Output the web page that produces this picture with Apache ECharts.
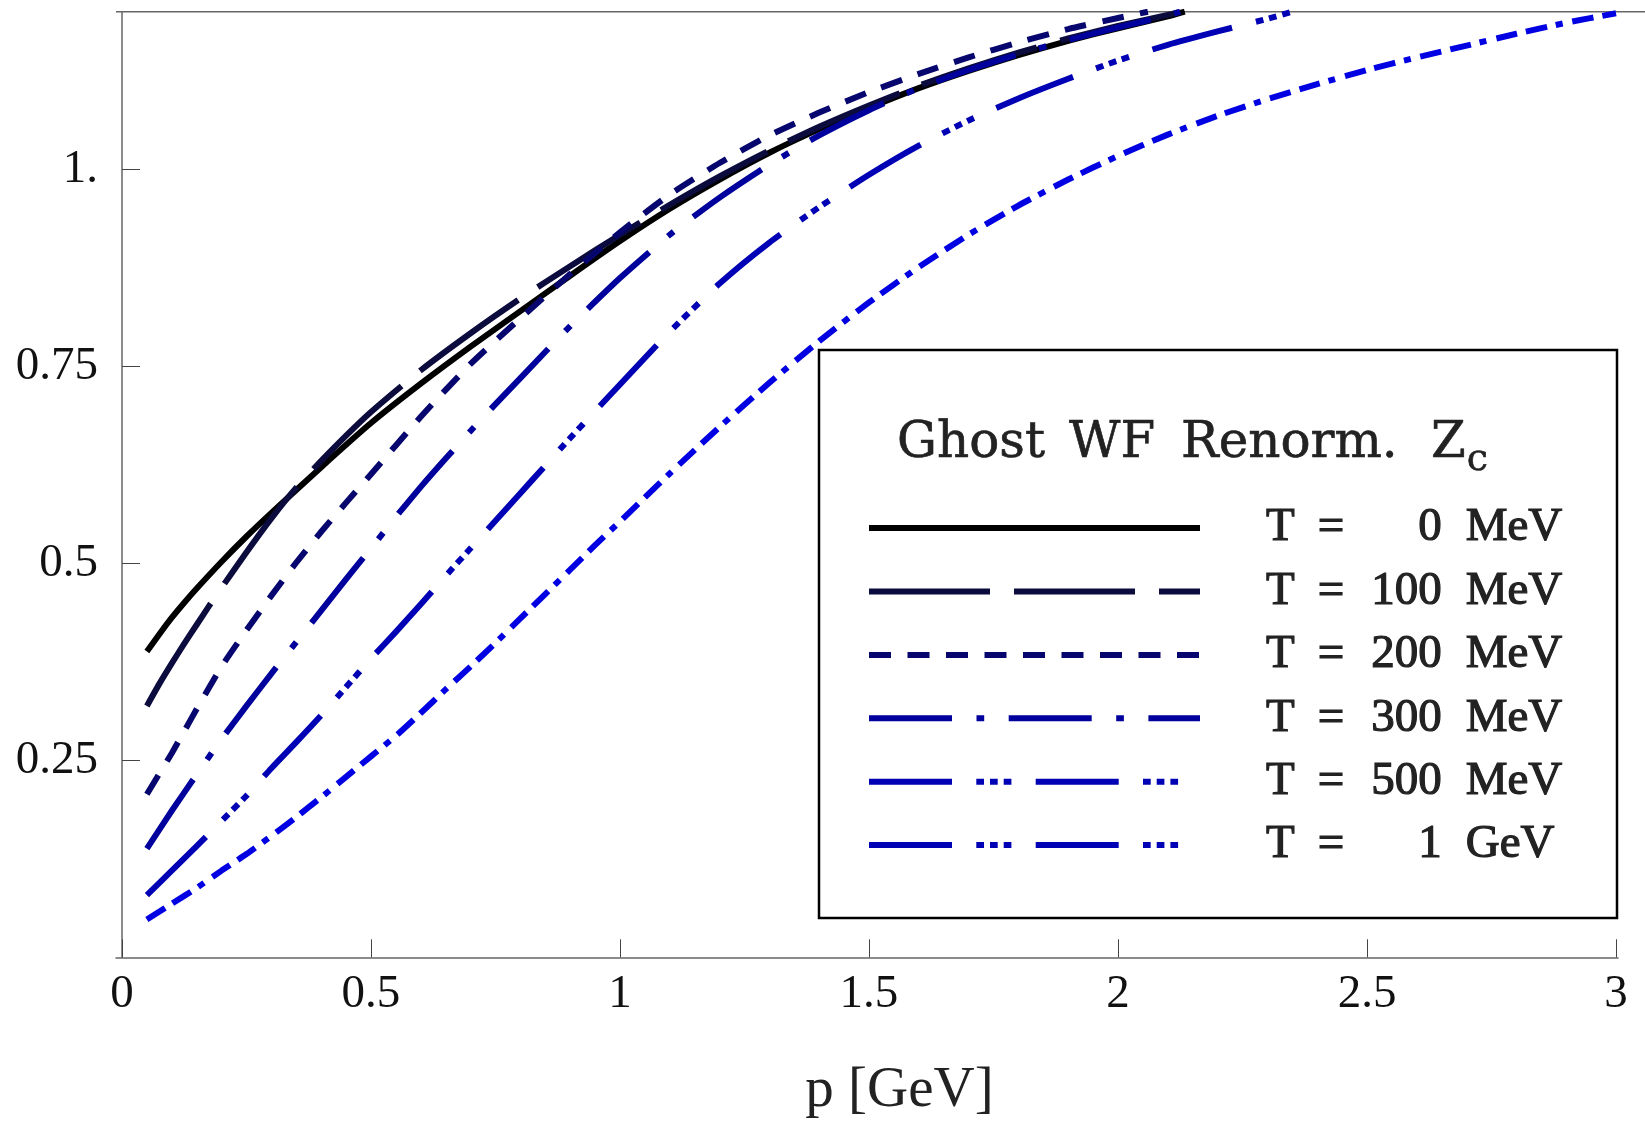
<!DOCTYPE html>
<html>
<head>
<meta charset="utf-8">
<title>Ghost WF Renorm. Zc</title>
<script src="https://cdn.jsdelivr.net/npm/echarts@6/dist/echarts.min.js"></script>
<style>
    html, body { margin: 0; padding: 0; background: #fff; }
    #chart { width: 1645px; height: 1125px; }
</style>
</head>
<body>
<div id="chart"></div>
<script>
// tick marks / labels
var xTicks = [0, 0.5, 1, 1.5, 2, 2.5, 3];
var xTickLabels = ['0', '0.5', '1', '1.5', '2', '2.5', '3'];
var yTicks = [0.25, 0.5, 0.75, 1];
var yTickLabels = ['0.25', '0.5', '0.75', '1.'];

// legend entries
var seriesNames = ['T = 0 MeV', 'T = 100 MeV', 'T = 200 MeV', 'T = 300 MeV', 'T = 500 MeV', 'T = 1 GeV'];
var tempValues = ['0', '100', '200', '300', '500', '1'];
var tempUnits = ['MeV', 'MeV', 'MeV', 'MeV', 'MeV', 'GeV'];

// curves, p [GeV] -> Z_c
var pT0 = [0.05, 0.075, 0.1, 0.125, 0.15, 0.2, 0.25, 0.3, 0.4, 0.5, 0.6, 0.7, 0.8, 0.9, 1.0, 1.1, 1.2, 1.3, 1.4, 1.5, 1.6, 1.7, 1.8, 1.9, 2.0, 2.1, 2.134];
var zT0 = [0.388, 0.410, 0.431, 0.450, 0.468, 0.502, 0.534, 0.564, 0.622, 0.678, 0.728, 0.775, 0.820, 0.865, 0.909, 0.950, 0.987, 1.021, 1.051, 1.078, 1.103, 1.125, 1.145, 1.163, 1.179, 1.194, 1.2];

var pT100 = [0.05, 0.075, 0.1, 0.125, 0.15, 0.175, 0.2, 0.25, 0.3, 0.35, 0.4, 0.45, 0.5, 0.6, 0.7, 0.8, 0.9, 1.0, 1.1, 1.2, 1.3, 1.4, 1.5, 1.6, 1.7, 1.8, 1.9, 2.0, 2.1, 2.125];
var zT100 = [0.319, 0.347, 0.373, 0.398, 0.422, 0.446, 0.469, 0.514, 0.557, 0.596, 0.630, 0.662, 0.692, 0.745, 0.792, 0.836, 0.877, 0.917, 0.955, 0.991, 1.024, 1.054, 1.081, 1.106, 1.128, 1.148, 1.166, 1.182, 1.196, 1.2];

var pT200 = [0.05, 0.075, 0.1, 0.125, 0.15, 0.2, 0.25, 0.3, 0.35, 0.4, 0.45, 0.5, 0.6, 0.7, 0.8, 0.9, 1.0, 1.1, 1.2, 1.3, 1.4, 1.5, 1.6, 1.7, 1.8, 1.9, 2.0, 2.06];
var zT200 = [0.207, 0.233, 0.259, 0.287, 0.315, 0.369, 0.415, 0.459, 0.501, 0.540, 0.577, 0.613, 0.686, 0.753, 0.811, 0.867, 0.920, 0.968, 1.008, 1.043, 1.072, 1.098, 1.121, 1.142, 1.161, 1.178, 1.192, 1.2];

var pT300 = [0.05, 0.1, 0.15, 0.2, 0.25, 0.3, 0.35, 0.4, 0.45, 0.5, 0.55, 0.6, 0.65, 0.7, 0.75, 0.8, 0.9, 1.0, 1.1, 1.2, 1.3, 1.4, 1.5, 1.6, 1.7, 1.8, 1.9, 2.0, 2.1, 2.125];
var zT300 = [0.138, 0.186, 0.232, 0.277, 0.319, 0.360, 0.400, 0.440, 0.480, 0.519, 0.559, 0.597, 0.633, 0.668, 0.702, 0.735, 0.801, 0.862, 0.917, 0.964, 1.006, 1.043, 1.075, 1.103, 1.126, 1.146, 1.164, 1.180, 1.195, 1.2];

var pT500 = [0.05, 0.1, 0.15, 0.2, 0.25, 0.3, 0.35, 0.4, 0.45, 0.5, 0.55, 0.6, 0.65, 0.7, 0.75, 0.8, 0.85, 0.9, 0.95, 1.0, 1.1, 1.2, 1.3, 1.4, 1.5, 1.6, 1.7, 1.8, 1.9, 2.0, 2.1, 2.2, 2.3, 2.35];
var zT500 = [0.079, 0.110, 0.141, 0.173, 0.205, 0.240, 0.273, 0.307, 0.343, 0.379, 0.413, 0.448, 0.484, 0.519, 0.554, 0.589, 0.624, 0.659, 0.693, 0.727, 0.794, 0.855, 0.907, 0.952, 0.993, 1.030, 1.062, 1.090, 1.115, 1.138, 1.158, 1.175, 1.191, 1.2];

var pT1000 = [0.05, 0.1, 0.15, 0.2, 0.25, 0.3, 0.35, 0.4, 0.45, 0.5, 0.55, 0.6, 0.65, 0.7, 0.75, 0.8, 0.85, 0.9, 0.95, 1.0, 1.1, 1.2, 1.3, 1.4, 1.5, 1.6, 1.7, 1.8, 1.9, 2.0, 2.1, 2.2, 2.3, 2.4, 2.5, 2.6, 2.7, 2.8, 2.9, 3.0];
var zT1000 = [0.048, 0.068, 0.088, 0.110, 0.131, 0.154, 0.178, 0.203, 0.229, 0.255, 0.281, 0.310, 0.340, 0.369, 0.399, 0.430, 0.461, 0.492, 0.523, 0.553, 0.614, 0.673, 0.729, 0.782, 0.831, 0.876, 0.917, 0.954, 0.987, 1.017, 1.044, 1.068, 1.089, 1.108, 1.126, 1.142, 1.157, 1.172, 1.186, 1.198];

var serif = 'Liberation Serif';
var wideSerif = 'DejaVu Serif';
var ink = '#222';

var styles = [
    {color: '#000000', dash: 'solid'},
    {color: '#0b0b3e', dash: [121, 24]},
    {color: '#06066e', dash: [22, 16.5]},
    {color: '#00009c', dash: [83, 24.5, 7.7, 24.5]},
    {color: '#0000b4', dash: [83, 24.3, 7.7, 6, 7.7, 6, 7.7, 24.3]},
    {color: '#0000e2', dash: [21.5, 9, 21.5, 9, 7, 10]}
];

var curves = [[pT0, zT0], [pT100, zT100], [pT200, zT200], [pT300, zT300], [pT500, zT500], [pT1000, zT1000]];

function pairUp(ps, zs) {
    var out = [];
    for (var i = 0; i < ps.length; i++) {
        out.push([ps[i], zs[i]]);
    }
    return out;
}

function lookup(values, labels, v) {
    for (var i = 0; i < values.length; i++) {
        if (Math.abs(values[i] - v) < 1e-9) return labels[i];
    }
    return '';
}

var series = [];
for (var k = 0; k < curves.length; k++) {
    series.push({
        name: seriesNames[k],
        type: 'line',
        data: pairUp(curves[k][0], curves[k][1]),
        symbol: 'none',
        smooth: 0.2,
        silent: true,
        lineStyle: {color: styles[k].color, width: 6, type: styles[k].dash, cap: 'butt', join: 'round'},
        itemStyle: {color: styles[k].color}
    });
}

// the reference legend repeats the 500 MeV style for the 1 GeV entry
var legendData = seriesNames.map(function (n, i) {
    if (i === 5) {
        return {name: n, lineStyle: {color: styles[4].color, type: styles[4].dash}};
    }
    return {name: n};
});

// slightly heavier than regular, like the TeX-style legend text
function heavy(family, size, border, extra) {
    var s = {fontFamily: family, fontSize: size, fontWeight: 'normal', color: ink, textBorderColor: ink, textBorderWidth: border};
    for (var key in extra) s[key] = extra[key];
    return s;
}

// right-align the number with figure spaces
function padNum(s) {
    while (s.length < 3) s = '\u2007' + s;
    return s;
}

var chart = echarts.init(document.getElementById('chart'));

var option = {
    animation: false,
    backgroundColor: '#fff',
    grid: {left: 116, right: 27, top: 11.7, bottom: 167.7},
    title: {
        text: '{g|Ghost}{w|WF}{r|Renorm.}{z|Z}{s|c}',
        left: 897,
        top: 408,
        padding: 0,
        textStyle: {
            fontWeight: 'normal',
            rich: {
                g: heavy(wideSerif, 50, 0.6, {lineHeight: 72, width: 172}),
                w: heavy(wideSerif, 50, 0.6, {lineHeight: 72, width: 112}),
                r: heavy(wideSerif, 50, 0.6, {lineHeight: 72, width: 250}),
                z: heavy(wideSerif, 50, 0.6, {lineHeight: 72}),
                s: heavy(wideSerif, 38, 0.6, {lineHeight: 40, padding: [32, 0, 0, 1]})
            }
        }
    },
    legend: {
        orient: 'vertical',
        left: 866,
        top: 504,
        padding: 0,
        itemWidth: 331,
        itemHeight: 50,
        itemGap: 15.2,
        selectedMode: false,
        lineStyle: {width: 6},
        itemStyle: {opacity: 0},
        data: legendData,
        formatter: function (name) {
            var i = seriesNames.indexOf(name);
            return '{a|T}{b|=}{n|' + padNum(tempValues[i]) + '}{u|' + tempUnits[i] + '}';
        },
        textStyle: {
            fontFamily: serif, fontSize: 47, color: ink,
            rich: {
                a: heavy(serif, 47, 1.2, {padding: [0, 0, 0, 61]}),
                b: heavy(serif, 47, 1.2, {padding: [0, 0, 0, 23]}),
                n: heavy(serif, 47, 1.2, {padding: [0, 0, 0, 27]}),
                u: heavy(serif, 47, 1.2, {padding: [0, 0, 0, 24]})
            }
        }
    },
    xAxis: {
        type: 'value',
        min: -0.012,
        max: 3.004,
        name: 'p [GeV]',
        nameLocation: 'middle',
        nameGap: 105,
        nameTextStyle: {fontFamily: serif, fontSize: 57, color: ink, padding: [0, 0, 0, 65]},
        axisLine: {show: true, lineStyle: {color: '#666', width: 1.5}},
        axisTick: {show: true, inside: true, length: 18, customValues: xTicks, lineStyle: {color: '#444', width: 1}},
        axisLabel: {
            customValues: xTicks,
            margin: 14,
            fontFamily: serif,
            fontSize: 47,
            color: '#111',
            formatter: function (v) { return lookup(xTicks, xTickLabels, v); }
        },
        splitLine: {show: false}
    },
    yAxis: {
        type: 'value',
        min: 0,
        max: 1.2,
        axisLine: {show: true, lineStyle: {color: '#666', width: 1.5}},
        axisTick: {show: true, inside: true, length: 18, customValues: yTicks, lineStyle: {color: '#444', width: 1}},
        axisLabel: {
            customValues: yTicks,
            margin: 18,
            fontFamily: serif,
            fontSize: 47,
            color: '#111',
            formatter: function (v) { return lookup(yTicks, yTickLabels, v); }
        },
        splitLine: {show: false}
    },
    graphic: [
        {
            type: 'rect',
            z: 3,
            shape: {x: 819, y: 350, width: 798, height: 568},
            style: {fill: '#fff', stroke: '#000', lineWidth: 2.5}
        },
        {
            type: 'line',
            z: 3,
            shape: {x1: 116, y1: 11.7, x2: 1645, y2: 11.7},
            style: {stroke: '#666', lineWidth: 1.5}
        }
    ],
    series: series
};

chart.setOption(option);
</script>
</body>
</html>
